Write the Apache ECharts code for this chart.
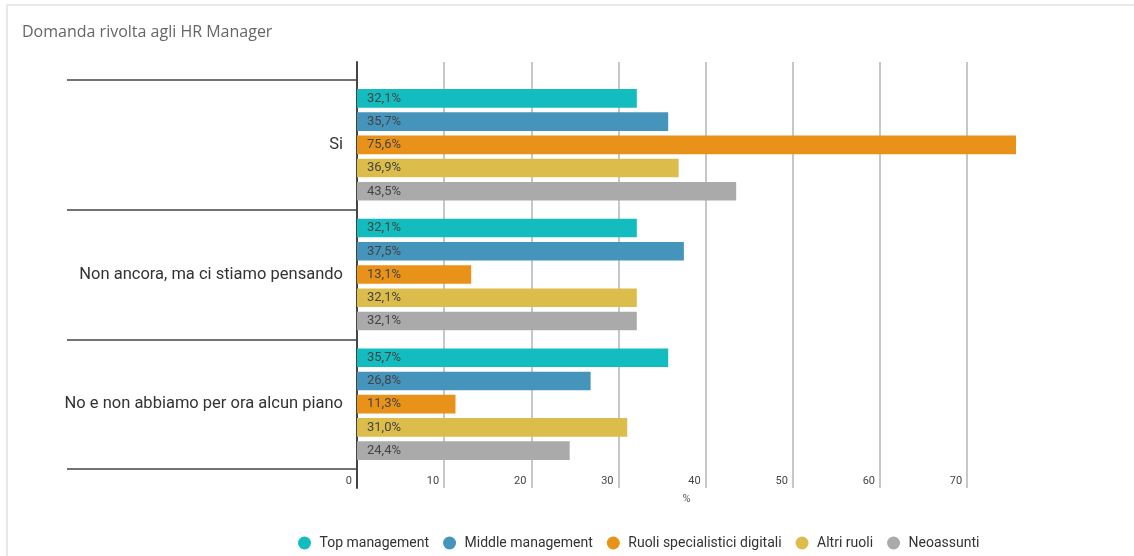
<!DOCTYPE html>
<html>
<head>
<meta charset="utf-8">
<title>Domanda rivolta agli HR Manager</title>
<script src="https://cdn.jsdelivr.net/npm/echarts@6/dist/echarts.min.js"></script>
<style>
  html, body { margin: 0; padding: 0; background: #fff; }
  #frame {
    position: absolute; left: 6px; top: 4px; right: 0; bottom: 0;
    border-left: 2px solid #e8e8e8; border-top: 2px solid #e8e8e8;
  }
  #chart { position: absolute; left: 0; top: 0; width: 1134px; height: 556px; }
</style>
</head>
<body>
<div id="frame"></div>
<div id="chart"></div>
<script>
// Risposte per categoria professionale (percentuali)
const categories = ['Si', 'Non ancora, ma ci stiamo pensando', 'No e non abbiamo per ora alcun piano'];
const seriesNames = ['Top management', 'Middle management', 'Ruoli specialistici digitali', 'Altri ruoli', 'Neoassunti'];
const topManagement = [32.1, 32.1, 35.7];
const middleManagement = [35.7, 37.5, 26.8];
const ruoliDigitali = [75.6, 13.1, 11.3];
const altriRuoli = [36.9, 32.1, 31.0];
const neoassunti = [43.5, 32.1, 24.4];
const seriesValues = [topManagement, middleManagement, ruoliDigitali, altriRuoli, neoassunti];
const colors = ['#13bcbe', '#4594bc', '#e8921a', '#dcbd4b', '#aaaaaa'];
const xMax = Math.max(...seriesValues.flat());

const fmt = v => v.toFixed(1).replace('.', ',') + '%';

const chart = echarts.init(document.getElementById('chart'), null, { renderer: 'canvas' });

chart.setOption({
  backgroundColor: 'transparent',
  animation: false,
  title: {
    text: 'Domanda rivolta agli HR Manager',
    left: 17, top: 19,
    textStyle: { fontFamily: 'Open Sans', fontSize: 16, fontWeight: 'normal', color: '#666' }
  },
  legend: {
    data: seriesNames,
    icon: 'circle',
    left: 293, top: 531,
    itemWidth: 20, itemHeight: 13, itemGap: 14,
    textStyle: { fontFamily: 'Roboto', fontSize: 14, color: '#333' }
  },
  grid: [
    // scale grid: vertical grid lines, tick labels and the axis unit
    { left: 357, right: 118, top: 62, height: 426 },
    // bar grid: category bands
    { left: 357, right: 118, top: 80, height: 389 }
  ],
  xAxis: [
    {
      gridIndex: 0, type: 'value', min: 0, max: xMax, interval: 10,
      name: '%', nameLocation: 'middle', nameGap: 5,
      nameTextStyle: { fontFamily: 'Roboto', fontSize: 11, color: '#555' },
      axisLine: { show: false },
      axisTick: { show: false },
      axisLabel: {
        inside: true, margin: 1, align: 'right', padding: [0, 5, 0, 0],
        showMaxLabel: false,
        fontFamily: 'Roboto', fontSize: 11, color: '#444'
      },
      splitLine: {
        show: true, showMaxLine: false,
        lineStyle: {
          width: 1.5,
          color: ['#444', '#b5b5b5', '#b5b5b5', '#b5b5b5', '#b5b5b5', '#b5b5b5', '#b5b5b5', '#b5b5b5', 'rgba(0,0,0,0)']
        }
      }
    },
    { gridIndex: 1, type: 'value', min: 0, max: xMax, show: false }
  ],
  yAxis: [
    {
      gridIndex: 0, type: 'value',
      axisLine: { show: true, lineStyle: { color: '#444', width: 2 } },
      axisTick: { show: false }, axisLabel: { show: false }, splitLine: { show: false }
    },
    {
      gridIndex: 1, type: 'category', inverse: true, data: categories,
      axisLine: { show: false },
      axisTick: { show: true, length: 290, lineStyle: { color: '#444', width: 1.5 } },
      axisLabel: { margin: 14, fontFamily: 'Roboto', fontSize: 16.5, color: '#333' },
      splitLine: { show: false }
    }
  ],
  series: seriesNames.map((name, i) => ({
    name,
    type: 'bar',
    xAxisIndex: 1, yAxisIndex: 1,
    data: seriesValues[i],
    barCategoryGap: '14%',
    barGap: '25%',
    itemStyle: { color: colors[i] },
    label: {
      show: true, position: 'insideLeft', distance: 10,
      formatter: p => fmt(p.value),
      fontFamily: 'Roboto', fontSize: 13, color: '#444'
    }
  }))
});
</script>
</body>
</html>
